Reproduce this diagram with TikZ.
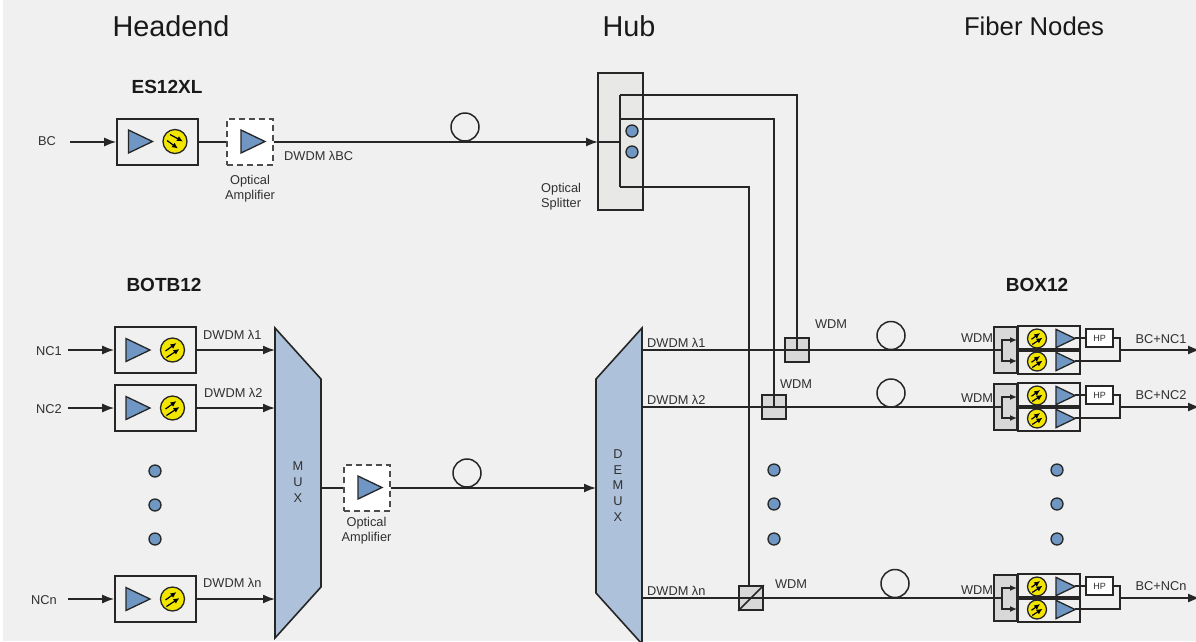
\documentclass[tikz,border=0pt]{standalone}
\usepackage{fontspec}
\setmainfont{Liberation Sans}
\usetikzlibrary{arrows.meta}
\definecolor{pagegray}{HTML}{F0F0F0}
\definecolor{ampblue}{HTML}{7096C4}
\definecolor{muxblue}{HTML}{AEC1DB}
\definecolor{detyellow}{HTML}{F2E600}
\definecolor{wdmgray}{HTML}{D8D8D8}
\definecolor{splitgray}{HTML}{E8E8E6}
\definecolor{textgray}{HTML}{303030}
\tikzset{
  lnk/.style={line width=1.6pt, black!85},
  arr/.style={lnk, -{Latex[length=12pt,width=9pt]}},
  box/.style={draw=black!85, line width=1.6pt, inner sep=0pt, minimum width=81pt, minimum height=46pt},
  wdmbox/.style={draw=black!85, fill=wdmgray, line width=1.6pt, inner sep=0pt, minimum size=24pt},
  rxbox/.style={draw=black!85, fill=pagegray, line width=1.6pt, inner sep=0pt, minimum width=62pt, minimum height=23pt},
  ampbox/.style={draw=black!70, dash pattern=on 6pt off 4pt, fill=white, line width=1.6pt, inner sep=0pt, minimum width=46pt, minimum height=46pt},
  fiber/.style={circle, draw=black!85, line width=1.5pt, inner sep=0pt, minimum size=28pt},
  dot/.style={circle, draw=black!85, fill=ampblue, line width=1.3pt, inner sep=0pt, minimum size=12pt},
  lbl/.style={font=\fontsize{12.8}{14.8}\selectfont, text=textgray, inner sep=0pt, align=center},
  head/.style={font=\fontsize{28.8}{32}\selectfont, text=black!90, inner sep=0pt},
  unit/.style={font=\fontsize{19}{22}\selectfont\bfseries, text=black!90, inner sep=0pt},
  pics/amp/.style={code={
    \draw[fill=ampblue, draw=black!85, line width=1.3pt] (-12,-11.5) -- (12,0) -- (-12,11.5) -- cycle;
  }},
  pics/det/.style={code={
    \draw[fill=detyellow, draw=black!85, line width=1.3pt] (0,0) circle (12);
    \draw[black, line width=1.2pt, -{Latex[length=6pt,width=5.5pt]}] (-7,1) -- (4,-7);
    \draw[black, line width=1.2pt, -{Latex[length=6pt,width=5.5pt]}] (-6,7.5) -- (7,-1);
  }},
  pics/detdown/.style={code={
    \draw[fill=detyellow, draw=black!85, line width=1.3pt] (0,0) circle (12);
    \draw[black, line width=1.2pt, -{Latex[length=6pt,width=5.5pt]}] (-5,-7) -- (8,0);
    \draw[black, line width=1.2pt, -{Latex[length=6pt,width=5.5pt]}] (-8,-1) -- (3,7);
  }},
}
\begin{document}
\begin{tikzpicture}[x=1pt, y=-1pt]
  \useasboundingbox (0,0) rectangle (1196,641);
  \clip (0,0) rectangle (1196,641);
  \fill[pagegray] (3,0) rectangle (1196,641);

  % Titoli
  \node[head] (headend) at (171,26) {Headend};
  \node[head] (hub) at (629,26) {Hub};
  \node[head, font=\fontsize{25.7}{30}\selectfont] (fibernodes) at (1034,26) {Fiber Nodes};
  \node[unit] (es12xl) at (167,87) {ES12XL};
  \node[unit] (botb12) at (164,285) {BOTB12};
  \node[unit] (box12) at (1037,285) {BOX12};

  % Riga BC
  \node[lbl] (bc) at (47,141) {BC};
  \coordinate (bcin) at (70,142);
  \node[box] (esbox) at (157.5,142) {};
  \pic at (140.5,141.5) {amp};
  \pic at (175,141.5) {detdown};
  \node[ampbox] (amptop) at (250,142) {};
  \pic at (253,141.5) {amp};
  \node[lbl] (optamptop) at (250,188.5) {Optical\\Amplifier};
  \node[lbl, anchor=west] (dwdmbc) at (284,156) {DWDM λBC};
  \node[fiber] (fibertop) at (465,127) {};
  \draw[arr] (bcin) -- (esbox.west);
  \draw[lnk] (esbox.east) -- (amptop.west);

  % Splitter
  \node[draw=black!85, fill=splitgray, line width=1.6pt, inner sep=0pt, minimum width=45pt, minimum height=137pt] (split) at (620.5,141.5) {};
  \node[dot] (splitdota) at (632,131) {};
  \node[dot] (splitdotb) at (632,152) {};
  \node[lbl, align=left, anchor=west] (splitlbl) at (541,196.5) {Optical\\Splitter};
  \coordinate (sp) at (620,142);
  \draw[lnk] (598,142) -- (sp);
  \draw[arr] (amptop.east) -- (598,142);
  \draw[lnk] (620,187) -- (620,95);

  % Blocchi ingresso
  \foreach \name/\txt/\tx/\yy in {a/NC1/49/350, b/NC2/49/408, n/NCn/44/599}{
    \node[box] (tx\name) at (155.5,\yy) {};
    \pic at (138,\yy) {amp};
    \pic at (172.5,\yy) {det};
    \node[lbl] (lbl\name) at (\tx,\yy+1.5) {\txt};
    \coordinate (in\name) at (68,\yy);
  }
  \foreach \name in {a,b,n}
    \draw[arr] (in\name) -- (tx\name.west);
  \node[lbl, anchor=west] (dwdmina) at (203,335) {DWDM λ1};
  \node[lbl, anchor=west] (dwdminb) at (204,393) {DWDM λ2};
  \node[lbl, anchor=west] (dwdminn) at (203,583) {DWDM λn};
  \foreach \yy in {471,505,539}
    \node[dot] (txdot\yy) at (155,\yy) {};

  % MUX e DEMUX
  \draw[fill=muxblue, draw=black!85, line width=1.6pt] (275,328) -- (321,379) -- (321,587) -- (275,638) -- cycle;
  \draw[fill=muxblue, draw=black!85, line width=1.6pt] (642,328) -- (596,379) -- (596,593) -- (642,644) -- cycle;
  \foreach \name/\yy in {a/350, b/408, n/599}{
    \coordinate (muxin\name) at (275,\yy);
    \draw[arr] (tx\name.east) -- (muxin\name);
  }
  \node[lbl] (muxlbl) at (298,482) {M\\[1pt]U\\[1pt]X};
  \node[lbl] (demuxlbl) at (618,485.5) {D\\[1pt]E\\[1pt]M\\[1pt]U\\[1pt]X};
  \coordinate (muxout) at (321,488);
  \coordinate (demuxin) at (596,488);
  \node[ampbox] (ampmux) at (367,488) {};
  \pic at (370,487.5) {amp};
  \node[lbl] (optampmux) at (366.5,531) {Optical\\Amplifier};
  \node[fiber] (fibermux) at (467,473) {};
  \draw[lnk] (muxout) -- (ampmux.west);
  \draw[arr] (ampmux.east) -- (demuxin);

  % Accoppiatori WDM
  \node[wdmbox] (wdma) at (797,350) {};
  \node[wdmbox] (wdmb) at (774,407) {};
  \node[wdmbox] (wdmn) at (751,598) {};
  \draw[lnk] (wdmn.south west) -- (wdmn.north east);
  \node[lbl] (wdmlbla) at (831,324) {WDM};
  \node[lbl] (wdmlblb) at (796,384) {WDM};
  \node[lbl] (wdmlbln) at (791,584) {WDM};
  \draw[lnk] (620,95) -| (wdma.center);
  \draw[lnk] (620,119) -| (wdmb.center);
  \draw[lnk] (620,187) -- (749,187) -- (749,586);
  \node[lbl, anchor=west] (dwdmouta) at (647,343) {DWDM λ1};
  \node[lbl, anchor=west] (dwdmoutb) at (647,400) {DWDM λ2};
  \node[lbl, anchor=west] (dwdmoutn) at (647,591) {DWDM λn};
  \node[fiber] (fiberouta) at (891,335.5) {};
  \node[fiber] (fiberoutb) at (891,393) {};
  \node[fiber] (fiberoutn) at (895,583.5) {};
  \foreach \yy in {470,504,539}{
    \node[dot] (hubdot\yy) at (774,\yy) {};
    \node[dot] (nodedot\yy) at (1057,\yy) {};
  }

  % Ricevitori
  \foreach \name/\txt/\yy/\wy/\ty in {a/NC1/350/338/339, b/NC2/407/398/395, n/NCn/598/590/586}{
    \node[wdmbox, minimum size=0pt, minimum width=23pt, minimum height=46pt] (rxin\name) at (1005.5,\yy) {};
    \node[rxbox, anchor=south west] (rxup\name) at (1017,\yy) {};
    \node[rxbox, anchor=north west] (rxdn\name) at (1017,\yy) {};
    \pic[scale=0.79] at (1037,\yy-11.5) {det};
    \pic[scale=0.79] at (1037,\yy+11.5) {det};
    \pic[scale=0.8] at (1065.5,\yy-11.5) {amp};
    \pic[scale=0.8] at (1065.5,\yy+11.5) {amp};
    \node[draw=black!85, fill=white, line width=1.6pt, inner sep=0pt, minimum width=27pt, minimum height=18pt, font=\fontsize{9}{10}\selectfont, text=textgray] (hp\name) at (1099.5,\yy-12) {HP};
    \node[lbl] (wdmrx\name) at (977,\wy) {WDM};
    \node[lbl] (out\name) at (1161,\ty) {BC+\txt};
    \coordinate (branch\name) at (1002,\yy);
    \coordinate (join\name) at (1120,\yy);
    \coordinate (rxend\name) at (1200,\yy);
    \coordinate (dhub\name) at (642,\yy);
    \draw[lnk] (dhub\name) -- (branch\name);
    \draw[lnk, -{Latex[length=7pt,width=6pt]}] (branch\name) |- (1017,\yy-10);
    \draw[lnk, -{Latex[length=7pt,width=6pt]}] (branch\name) |- (1017,\yy+11);
    \draw[lnk] (1075,\yy-12) -- (hp\name.west);
    \draw[lnk] (hp\name.east) -| (join\name);
    \draw[lnk] (1075,\yy+11) -| (join\name);
    \draw[arr] (join\name) -- (rxend\name);
  }
\end{tikzpicture}
\end{document}
